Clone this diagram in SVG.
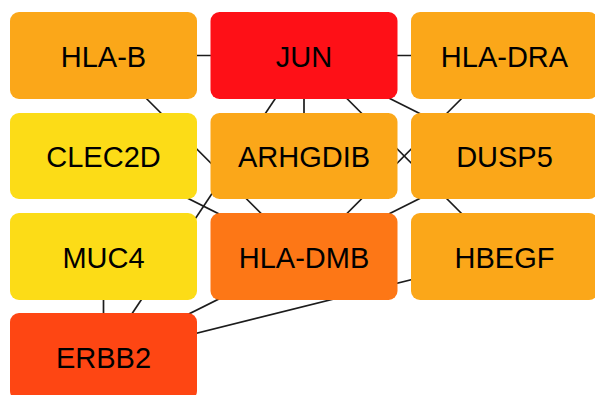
<svg xmlns="http://www.w3.org/2000/svg" width="595" height="395" viewBox="0 0 595 395">
  <style>
    .edge { stroke: #1c1c1c; stroke-width: 1.7; fill: none; }
    .box { stroke: none; }
    .lbl { font-family: "Liberation Sans", Arial, sans-serif; font-size: 29px; fill: #000; text-anchor: middle; }
    .orange { fill: #FBA719; }
    .red { fill: #FE1017; }
    .yellow { fill: #FCDC17; }
    .dark-orange { fill: #FD7716; }
    .red-orange { fill: #FE4613; }
  </style>
  <rect width="595" height="395" fill="#ffffff"/>

  <!-- connectors, centre to centre, drawn beneath the nodes -->
  <g id="edges">
    <line class="edge" x1="103.5" y1="55.5" x2="304" y2="55.5"/>
    <line class="edge" x1="304" y1="55.5" x2="504.5" y2="55.5"/>
    <line class="edge" x1="103.5" y1="55.5" x2="304" y2="256.5"/>
    <line class="edge" x1="304" y1="55.5" x2="304" y2="156"/>
    <line class="edge" x1="304" y1="55.5" x2="103.5" y2="356.5"/>
    <line class="edge" x1="304" y1="55.5" x2="504.5" y2="256.5"/>
    <line class="edge" x1="304" y1="55.5" x2="504.5" y2="156"/>
    <line class="edge" x1="504.5" y1="55.5" x2="304" y2="256.5"/>
    <line class="edge" x1="103.5" y1="156" x2="304" y2="256.5"/>
    <line class="edge" x1="504.5" y1="156" x2="304" y2="256.5"/>
    <line class="edge" x1="504.5" y1="256.5" x2="103.5" y2="356.5"/>
    <line class="edge" x1="304" y1="256.5" x2="103.5" y2="356.5"/>
    <line class="edge" x1="103.5" y1="256.5" x2="103.5" y2="356.5"/>
  </g>

  <g id="HLA-B">
    <rect class="box orange" x="10" y="12" width="187" height="87" rx="9"/>
    <text class="lbl" x="103.5" y="66.5">HLA-B</text>
  </g>
  <g id="JUN">
    <rect class="box red" x="210.5" y="12" width="187" height="87" rx="9"/>
    <text class="lbl" x="304" y="66.5">JUN</text>
  </g>
  <g id="HLA-DRA">
    <rect class="box orange" x="411" y="12" width="187" height="87" rx="9"/>
    <text class="lbl" x="504.5" y="66.5">HLA-DRA</text>
  </g>

  <g id="CLEC2D">
    <rect class="box yellow" x="10" y="113" width="187" height="86" rx="9"/>
    <text class="lbl" x="103.5" y="167">CLEC2D</text>
  </g>
  <g id="ARHGDIB">
    <rect class="box orange" x="210.5" y="113" width="187" height="86" rx="9"/>
    <text class="lbl" x="304" y="167">ARHGDIB</text>
  </g>
  <g id="DUSP5">
    <rect class="box orange" x="411" y="113" width="187" height="86" rx="9"/>
    <text class="lbl" x="504.5" y="167">DUSP5</text>
  </g>

  <g id="MUC4">
    <rect class="box yellow" x="10" y="213" width="187" height="87" rx="9"/>
    <text class="lbl" x="103.5" y="267.5">MUC4</text>
  </g>
  <g id="HLA-DMB">
    <rect class="box dark-orange" x="210.5" y="213" width="187" height="87" rx="9"/>
    <text class="lbl" x="304" y="267.5">HLA-DMB</text>
  </g>
  <g id="HBEGF">
    <rect class="box orange" x="411" y="213" width="187" height="87" rx="9"/>
    <text class="lbl" x="504.5" y="267.5">HBEGF</text>
  </g>

  <g id="ERBB2">
    <rect class="box red-orange" x="10" y="313" width="187" height="87" rx="9"/>
    <text class="lbl" x="103.5" y="367.5">ERBB2</text>
  </g>
</svg>
